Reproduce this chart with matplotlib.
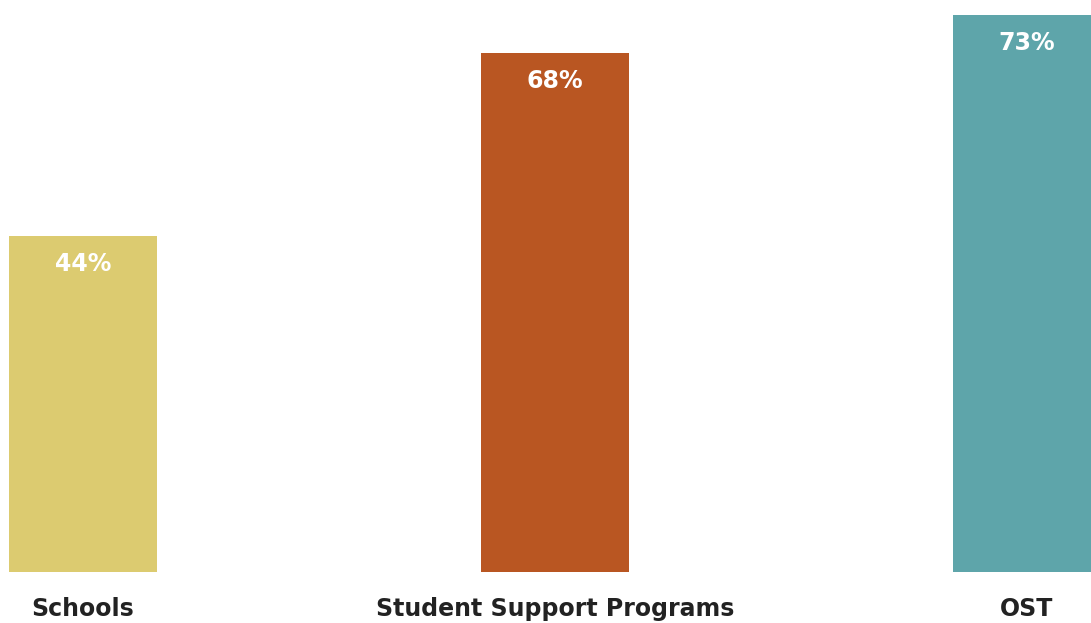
import matplotlib
matplotlib.use("Agg")
import matplotlib.pyplot as plt

categories = ["Schools", "Student Support Programs", "OST"]
values = [44, 68, 73]
colors = ["#DCCB70", "#B95622", "#5EA5AA"]

W, H = 1091, 623
fig = plt.figure(figsize=(W / 100, H / 100), dpi=100)
ax = fig.add_axes([0, 51 / H, 1, 572 / H])

x = list(range(len(categories)))
bars = ax.bar(x, values, width=148 / 472, color=colors)
ax.set_xlim(-83 / 472, (W - 83) / 472)
ax.set_ylim(0, 572 / 7.636)

for xi, v in zip(x, values):
    ax.annotate(f"{v}%", xy=(xi, v), xytext=(0, -28), textcoords="offset points" if False else "offset pixels",
                ha="center", va="center", color="white", fontsize=17, fontweight="bold",
                family="DejaVu Sans")

for xi, c in zip(x, categories):
    ax.annotate(c, xy=(xi, 0), xytext=(0, -37), textcoords="offset pixels",
                ha="center", va="center", color="#222222", fontsize=17, fontweight="bold",
                family="DejaVu Sans", annotation_clip=False)

ax.axis("off")
fig.savefig("out.png", dpi=100)
